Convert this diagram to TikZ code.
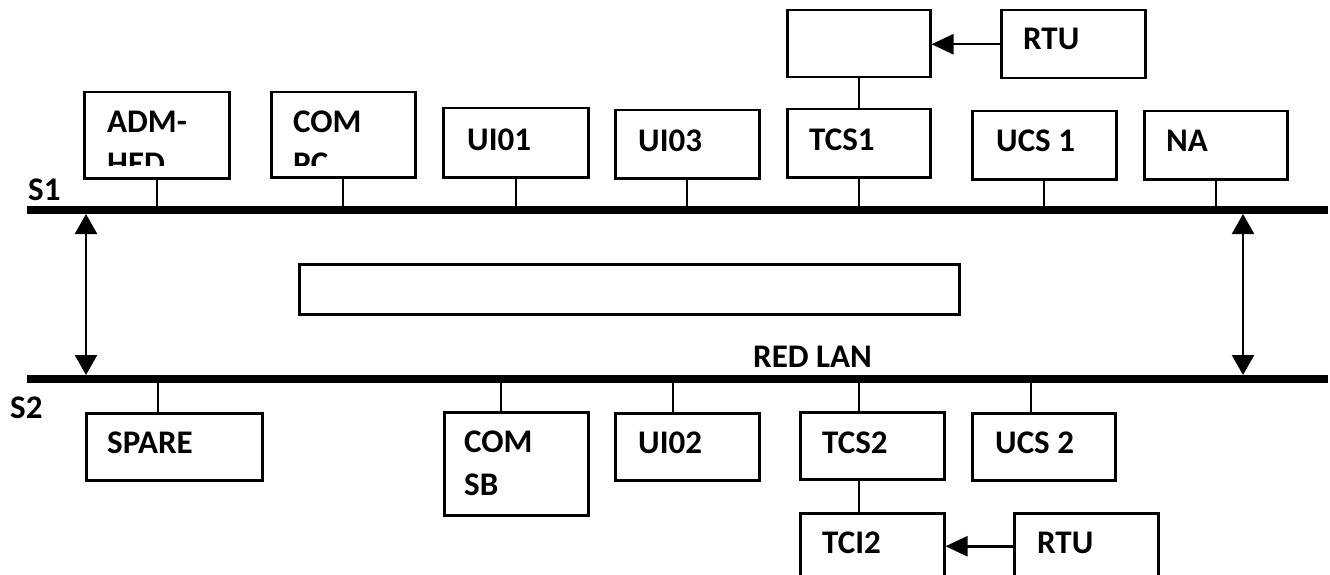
\documentclass[tikz,border=0pt]{standalone}
\usepackage{fontspec}
\setmainfont{Carlito}
\usetikzlibrary{arrows.meta}
\begin{document}
\begin{tikzpicture}[x=1pt,y=-1pt,
  box/.style={draw, line width=2.5pt, rectangle, inner sep=0pt, anchor=north west},
  lbl/.style={anchor=base west, inner sep=0pt, font=\fontsize{33}{38}\selectfont\bfseries},
  bus/.style={line width=8pt, line cap=butt},
  conn/.style={line width=2pt},
  arr/.style={line width=2.5pt, -{Triangle[length=22pt,width=20pt]}},
  darr/.style={line width=2.5pt, {Triangle[length=20pt,width=22pt]}-{Triangle[length=20pt,width=22pt]}}]
\clip (0,0) rectangle (1330,575);
% buses
\coordinate (s1l) at (27,210);
\coordinate (s1r) at (1328,210);
\coordinate (s2l) at (27,379);
\coordinate (s2r) at (1328,379);
\draw[bus] (s1l) -- (s1r);
\draw[bus] (s2l) -- (s2r);
\node[lbl] (ls1) at (28,200) {S1};
\node[lbl] (ls2) at (10,418) {S2};
\node[lbl] (lred) at (753,367) {RED LAN};
% double arrows
\coordinate (a1t) at (86,214);
\coordinate (a1b) at (86,375);
\coordinate (a2t) at (1243,214);
\coordinate (a2b) at (1243,375);
\draw[darr] (a1t) -- (a1b);
\draw[darr] (a2t) -- (a2b);
% middle box
\node[box, line width=3pt, minimum width=660pt, minimum height=50pt] (mid) at (298,263) {};
% top row boxes
\node[box, minimum width=145pt, minimum height=86pt] (adm) at (83,91) {};
\node[box, minimum width=144pt, minimum height=85pt] (compc) at (270,91) {};
\node[box, minimum width=145pt, minimum height=69pt] (ui01) at (442,107) {};
\node[box, minimum width=144pt, minimum height=68pt] (ui03) at (614,109) {};
\node[box, minimum width=143pt, minimum height=68pt] (tcs1) at (786,108) {};
\node[box, minimum width=143pt, minimum height=67pt] (top) at (786,9) {};
\node[box, minimum width=144pt, minimum height=68pt] (rtu1) at (1000,9) {};
\node[box, minimum width=144pt, minimum height=68pt] (ucs1) at (971,110) {};
\node[box, minimum width=143pt, minimum height=68pt] (na) at (1143,110) {};
% top labels
\begin{scope}
\clip (85,93) rectangle (226,165);
\node[lbl] (tadm) at (107,132) {ADM-};
\node[lbl] (tadm2) at (107,175) {HED};
\end{scope}
\begin{scope}
\clip (272,93) rectangle (412,165);
\node[lbl] (tcom) at (293,132) {COM};
\node[lbl] (tcom2) at (293,175) {PC};
\end{scope}
\node[lbl] (tui01) at (467,150) {UI01};
\node[lbl] (tui03) at (638,151) {UI03};
\node[lbl] (ttcs1) at (809,150) {TCS1};
\node[lbl] (trtu1) at (1023,50) {RTU};
\node[lbl] (tucs1) at (996,152) {UCS 1};
\node[lbl] (tna) at (1166,152) {NA};
% top connectors
\foreach \n in {adm,compc,ui01,ui03,tcs1,ucs1,na}
  \draw[conn] (\n.south) -- (\n.south |- s1l);
\draw[conn] (tcs1.north) -- (top.south);
\draw[arr] (rtu1.west) -- (rtu1.west -| top.east);
% bottom row boxes
\node[box, minimum width=176pt, minimum height=67pt] (spare) at (85,412) {};
\node[box, minimum width=144pt, minimum height=103pt] (comsb) at (443,411) {};
\node[box, minimum width=144pt, minimum height=67pt] (ui02) at (614,412) {};
\node[box, minimum width=144pt, minimum height=67pt] (tcs2) at (799,411) {};
\node[box, minimum width=143pt, minimum height=67pt] (ucs2) at (971,412) {};
\node[box, minimum width=144pt, minimum height=66pt] (tci2) at (799,512) {};
\node[box, minimum width=144pt, minimum height=66pt] (rtu2) at (1013,512) {};
% bottom labels
\node[lbl] (tspare) at (107,453) {SPARE};
\node[lbl] (tcomsb) at (464,452) {COM};
\node[lbl] (tcomsb2) at (464,495) {SB};
\node[lbl] (tui02) at (638,453) {UI02};
\node[lbl] (ttcs2) at (822,453) {TCS2};
\node[lbl] (tucs2) at (995,453) {UCS 2};
\node[lbl] (ttci2) at (822,553) {TCI2};
\node[lbl] (trtu2) at (1037,553) {RTU};
% bottom connectors
\draw[conn] ([xshift=-16pt]spare.north) -- ([xshift=-16pt]spare.north |- s2l);
\draw[conn] ([xshift=-15pt]comsb.north) -- ([xshift=-15pt]comsb.north |- s2l);
\draw[conn] ([xshift=-14pt]ui02.north) -- ([xshift=-14pt]ui02.north |- s2l);
\draw[conn] ([xshift=-13pt]tcs2.north) -- ([xshift=-13pt]tcs2.north |- s2l);
\draw[conn] ([xshift=-13pt]ucs2.north) -- ([xshift=-13pt]ucs2.north |- s2l);
\draw[conn] ([xshift=-13pt]tcs2.south) -- ([xshift=-13pt]tci2.north);
\draw[arr] (rtu2.west) -- (rtu2.west -| tci2.east);
\end{tikzpicture}
\end{document}
